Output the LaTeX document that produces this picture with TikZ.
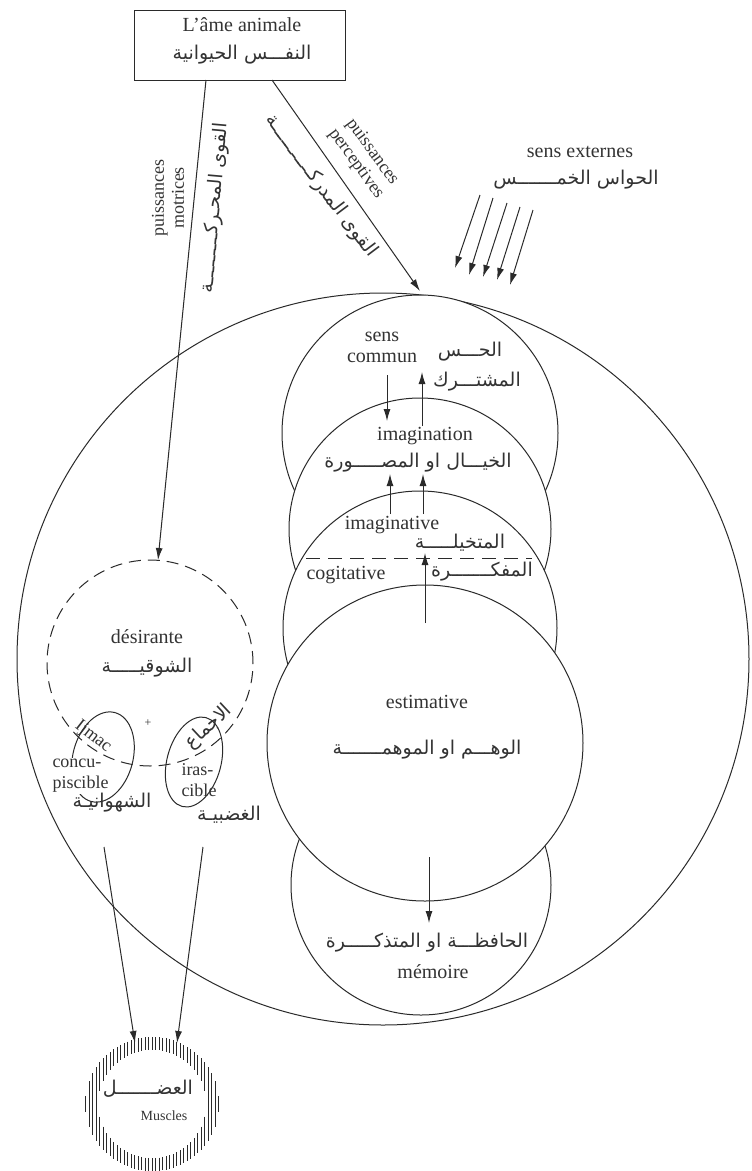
\documentclass[tikz,border=0pt]{standalone}
\usepackage{fontspec}
\setmainfont{Liberation Serif}
\newfontfamily\arabicfont[Script=Arabic]{DejaVu Sans}
\TeXXeTstate=1
\usetikzlibrary{arrows.meta,shapes.geometric}
\newcommand{\artxt}[1]{{\arabicfont\beginR #1\endR}}
\definecolor{ink}{HTML}{2A2A2A}
\definecolor{inktext}{HTML}{333333}
\begin{document}
\begin{tikzpicture}[x=1pt,y=-1pt,line width=1pt,draw=ink,
  lab/.style={font=\fontsize{20}{21}\selectfont,text=inktext,inner sep=0pt,align=center},
  rotlab/.style={font=\fontsize{18}{20}\selectfont,text=inktext,inner sep=0pt,align=center},
  smlab/.style={font=\fontsize{18}{21}\selectfont,text=inktext,inner sep=0pt},
  arlab/.style={font=\arabicfont\fontsize{19}{22}\selectfont,text=inktext,inner sep=0pt},
  arr/.style={-{Latex[length=12pt,width=7pt]}},
  ringc/.style={draw=ink,fill=white,circle,inner sep=0pt},
  lobe/.style={draw=ink,ellipse,inner sep=0pt,rotate=-15},
  dashcirc/.style={draw=ink,circle,inner sep=0pt,dash pattern=on 12pt off 7pt},
  hatch/.style={line width=0.8pt}]
\useasboundingbox (0,0) rectangle (752,1171);

% top box
\node[draw=ink,minimum width=211pt,minimum height=70pt,inner sep=0pt] (ame) at (239.5,45) {};
\node[lab] (ameF) at (242,25) {L'âme animale};
\node[arlab] (ameA) at (242,55) {\artxt{النفـــس الحيوانية}};

% big circle and column of faculties
\node[ringc,minimum size=732pt] (big) at (383,659) {};
\node[ringc,minimum size=276pt] (sc) at (420,433) {};
\node[ringc,minimum size=262pt] (img) at (420,529) {};
\node[ringc,minimum size=274pt] (imv) at (420,628) {};
\node[ringc,minimum size=260pt] (mem) at (421,885) {};
\node[ringc,minimum size=316pt] (est) at (425,743) {};

% key points
\coordinate (m0) at (206,80);
\coordinate (m1) at (158,560);
\coordinate (p0) at (272,80);
\coordinate (top) at (420,291);

% motor and perceptive powers
\draw[arr] (m0) -- (m1);
\draw[arr] (p0) -- (top);
\node[rotlab,rotate=90] (motF) at (168,198) {puissances\\motrices};
\node[arlab,rotate=85] (motA) at (215,208) {\artxt{القوى المحـركـــــــــة}};
\node[rotlab,rotate=-54] (perF) at (364,158) {puissances\\perceptives};
\node[arlab,rotate=-53] (perA) at (321,186) {\artxt{القوى المدركـــــــــــة}};

% external senses
\node[lab] (extF) at (580,152) {sens externes};
\node[arlab] (extA) at (576,180) {\artxt{الحواس الخمـــــــس}};
\foreach \n/\xa/\ya/\xb/\yb in {1/480/195/455/268,2/493/198/469/275,3/507/203/483/277,4/520/207/497/280,5/533/210/510/285}{
  \coordinate (e\n a) at (\xa,\ya);
  \coordinate (e\n b) at (\xb,\yb);
  \draw[arr] (e\n a) -- (e\n b);
}

% sens commun
\node[lab] (scF) at (382,347) {sens\\commun};
\node[arlab] (scA1) at (470,352) {\artxt{الحـــس}};
\node[arlab] (scA2) at (477,382) {\artxt{المشتـــرك}};
\coordinate (a1s) at (387,375); \coordinate (a1e) at (387,421);
\coordinate (a2s) at (422,426); \coordinate (a2e) at (422,372);
\draw[arr] (a1s) -- (a1e);
\draw[arr] (a2s) -- (a2e);

% imagination
\node[lab] (imgF) at (425,436) {imagination};
\node[arlab] (imgA) at (418,463) {\artxt{الخيـــال او المصـــــورة}};
\coordinate (a3s) at (390,514); \coordinate (a3e) at (390,474);
\coordinate (a4s) at (423,514); \coordinate (a4e) at (423,474);
\draw[arr] (a3s) -- (a3e);
\draw[arr] (a4s) -- (a4e);

% imaginative / cogitative
\node[lab] (imvF) at (392,525) {imaginative};
\node[arlab] (imvA) at (460,543) {\artxt{المتخيلـــــة}};
\coordinate (dl1) at (306,558); \coordinate (dl2) at (532,558);
\draw[dash pattern=on 14pt off 8pt] (dl1) -- (dl2);
\node[lab] (cogF) at (346,575) {cogitative};
\node[arlab] (cogA) at (482,572) {\artxt{المفكـــــــرة}};
\coordinate (a5s) at (425,623); \coordinate (a5e) at (425,553);
\draw[arr] (a5s) -- (a5e);

% estimative
\node[lab] (estF) at (427,702) {estimative};
\node[arlab] (estA) at (427,750) {\artxt{الوهـــم او الموهمـــــــة}};
\coordinate (a6s) at (429,857); \coordinate (a6e) at (429,923);
\draw[arr] (a6s) -- (a6e);

% memory
\node[arlab] (memA) at (427,943) {\artxt{الحافظـــة او المتذكـــــرة}};
\node[lab] (memF) at (433,972) {mémoire};

% desiring faculty
\node[dashcirc,minimum size=206pt] (des) at (150,663) {};
\node[lab] (desF) at (147,637) {désirante};
\node[arlab] (desA) at (147,668) {\artxt{الشوقيـــــة}};
\node[lab,font=\fontsize{12}{12}\selectfont] (plus) at (148,723) {+};
\node[lobe,minimum width=60pt,minimum height=92pt] (conc) at (103,757) {};
\node[lobe,minimum width=54pt,minimum height=92pt] (iras) at (194,762) {};
\node[smlab,rotate=-38] (ijm) at (93,737) {Ijmac};
\node[arlab,rotate=43] (ijmA) at (209,727) {\artxt{الاجماع}};
\node[smlab,fill=white,align=left,anchor=west,inner sep=1pt] (concF) at (51,776) {concu-\\piscible};
\node[smlab,align=left,anchor=west] (irasF) at (181,780) {iras-\\cible};
\node[arlab] (concA) at (112,803) {\artxt{الشهوانيـة}};
\node[arlab] (irasA) at (229,815) {\artxt{الغضبيـة}};

% muscles
\foreach \i in {-19,...,19}{
  \pgfmathsetmacro{\xx}{\i*3.5}
  \pgfmathsetmacro{\yo}{sqrt(max(67*67-\xx*\xx,0))}
  \pgfmathsetmacro{\yi}{sqrt(max(54*54-\xx*\xx,0))}
  \draw[hatch] (152+\xx,1104-\yo) -- (152+\xx,1104-\yi) (152+\xx,1104+\yi) -- (152+\xx,1104+\yo);
}
\node[circle,minimum size=134pt,inner sep=0pt] (mus) at (152,1104) {};
\node[arlab] (musA) at (148,1089) {\artxt{العضـــــــل}};
\node[lab,font=\fontsize{14}{17}\selectfont] (musF) at (164,1116) {Muscles};
\coordinate (c0) at (104,847); \coordinate (c1) at (135,1043);
\coordinate (i0) at (203,847); \coordinate (i1) at (177,1043);
\draw[arr] (c0) -- (c1);
\draw[arr] (i0) -- (i1);
\end{tikzpicture}
\end{document}
